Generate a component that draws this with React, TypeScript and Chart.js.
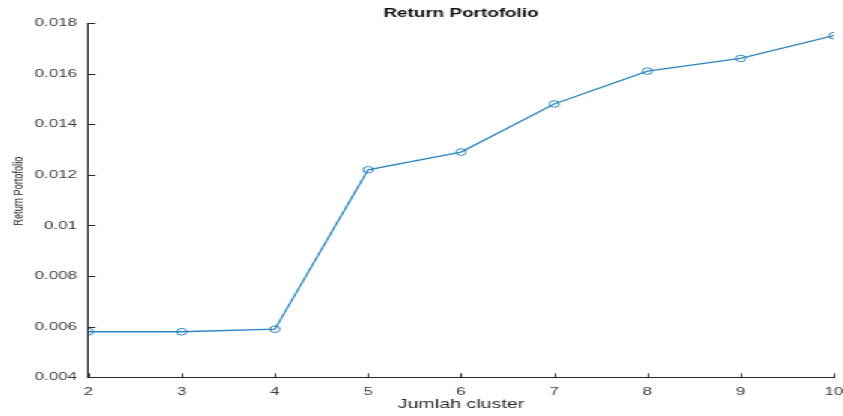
import React, { useEffect, useRef } from "react";
import { Chart, registerables } from "chart.js";

Chart.register(...registerables);

// Number of clusters on the x axis and the portfolio return for each
const clusterCounts = [2, 3, 4, 5, 6, 7, 8, 9, 10];
const portfolioReturns = [0.0058, 0.0058, 0.0059, 0.0122, 0.0129, 0.0148, 0.0161, 0.0166, 0.0175];
const yTickValues = [0.004, 0.006, 0.008, 0.01, 0.012, 0.014, 0.016, 0.018];

const chartTitle = "Return Portofolio";
const xAxisTitle = "Jumlah cluster";
const yAxisTitle = "Return Portofolio";

const FONT = "'Liberation Sans', Arial, Helvetica, sans-serif";
const AXIS_COLOR = "#262626";
const LINE_COLOR = "#2a86bf";

// Drawing surface is rendered narrow and stretched horizontally
const CANVAS_W = 562;
const CANVAS_H = 416;
const STRETCH_X = 1.5;

// Short tick marks pointing into the plot area
const inwardTicks = {
  id: "inwardTicks",
  afterDraw(chart: any) {
    const { ctx, chartArea, scales } = chart;
    const xs = scales.x;
    const ys = scales.y;
    ctx.save();
    ctx.strokeStyle = AXIS_COLOR;
    ctx.lineWidth = 1;
    ctx.beginPath();
    xs.ticks.forEach((t: any) => {
      const px = Math.round(xs.getPixelForValue(t.value)) + 0.5;
      ctx.moveTo(px, chartArea.bottom);
      ctx.lineTo(px, chartArea.bottom - 4);
    });
    ys.ticks.forEach((t: any) => {
      const py = Math.round(ys.getPixelForValue(t.value)) + 0.5;
      ctx.moveTo(chartArea.left, py);
      ctx.lineTo(chartArea.left + 4.5, py);
    });
    ctx.stroke();
    ctx.restore();
  },
};

// Rotated y-axis caption, placed a little above the middle of the axis
const yCaption = {
  id: "yCaption",
  afterDraw(chart: any) {
    const { ctx, chartArea } = chart;
    const cy = (chartArea.top + chartArea.bottom) / 2 - 9;
    ctx.save();
    ctx.translate(12.2, cy);
    ctx.rotate(-Math.PI / 2);
    ctx.fillStyle = "#262626";
    ctx.font = `9.2px ${FONT}`;
    ctx.textAlign = "center";
    ctx.textBaseline = "middle";
    ctx.fillText(yAxisTitle, 0, 0);
    ctx.restore();
  },
};

export default function App() {
  const canvasRef = useRef<HTMLCanvasElement | null>(null);

  useEffect(() => {
    if (!canvasRef.current) return;
    const chart = new Chart(canvasRef.current, {
      type: "line",
      data: {
        datasets: [
          {
            data: clusterCounts.map((c, i) => ({ x: c, y: portfolioReturns[i] })),
            borderColor: LINE_COLOR,
            borderWidth: 1.3,
            backgroundColor: "rgba(0,0,0,0)",
            pointBackgroundColor: "rgba(0,0,0,0)",
            pointBorderColor: LINE_COLOR,
            pointBorderWidth: 1,
            pointRadius: 3.3,
            tension: 0,
            fill: false,
          },
        ],
      },
      options: {
        responsive: false,
        animation: false,
        devicePixelRatio: 1,
        layout: { padding: { left: 0, right: 6, top: 0, bottom: 0 } },
        plugins: {
          legend: { display: false },
          tooltip: { enabled: false },
          title: {
            display: true,
            text: chartTitle,
            fullSize: false,
            color: "#111111",
            font: { family: FONT, size: 12.6, weight: "bold" },
            padding: { top: 5.5, bottom: 2.4 },
          },
        },
        scales: {
          x: {
            type: "linear",
            min: clusterCounts[0],
            max: clusterCounts[clusterCounts.length - 1],
            afterBuildTicks: (scale: any) => {
              scale.ticks = clusterCounts.map((v) => ({ value: v }));
            },
            afterFit: (scale: any) => {
              scale.height = 38.7;
              scale.paddingLeft = 0;
              scale.paddingRight = 0;
            },
            grid: { display: false, drawTicks: false },
            border: { display: true, color: AXIS_COLOR, width: 1 },
            ticks: {
              color: "#3a3a3a",
              font: { family: FONT, size: 11.2 },
              padding: 8,
              maxRotation: 0,
              autoSkip: false,
              callback: (v: any) => String(v),
            },
            title: {
              display: true,
              text: xAxisTitle,
              color: "#262626",
              font: { family: FONT, size: 13.1 },
              padding: { top: 0, bottom: 3.6 },
            },
          },
          y: {
            type: "linear",
            min: yTickValues[0],
            max: yTickValues[yTickValues.length - 1],
            afterBuildTicks: (scale: any) => {
              scale.ticks = yTickValues.map((v) => ({ value: v }));
            },
            afterFit: (scale: any) => {
              scale.width = 58.9;
            },
            grid: { display: false, drawTicks: false },
            border: { display: true, color: AXIS_COLOR, width: 1 },
            ticks: {
              color: "#3a3a3a",
              font: { family: FONT, size: 11.2 },
              padding: 7.8,
              autoSkip: false,
              callback: (v: any) => String(parseFloat(Number(v).toFixed(3))),
            },
          },
        },
      },
      plugins: [inwardTicks, yCaption],
    } as any);
    return () => chart.destroy();
  }, []);

  return (
    <div
      style={{
        position: "fixed",
        left: 0,
        top: 0,
        width: CANVAS_W,
        height: CANVAS_H,
        background: "#ffffff",
        transform: `scaleX(${STRETCH_X})`,
        transformOrigin: "0 0",
      }}
    >
      <canvas ref={canvasRef} width={CANVAS_W} height={CANVAS_H} />
    </div>
  );
}
